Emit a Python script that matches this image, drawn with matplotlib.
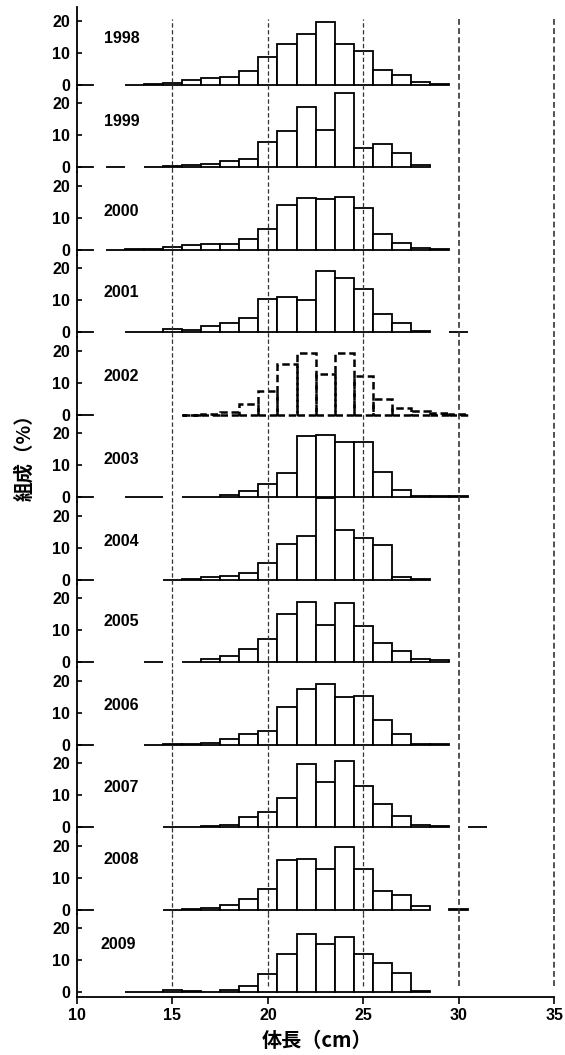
import matplotlib
matplotlib.use("Agg")
import matplotlib.pyplot as plt

plt.rcParams["font.family"] = ["Liberation Sans", "Noto Sans CJK JP", "DejaVu Sans"]
plt.rcParams["font.weight"] = "bold"

# length classes (cm), centre of each 1 cm bin
length_bins = [12, 13, 14, 15, 16, 17, 18, 19, 20, 21,
               22, 23, 24, 25, 26, 27, 28, 29, 30, 31]

# composition (%) by year; None = no fish in that class
y1998 = [None, 0.05, 0.2, 0.6, 1.6, 2.2, 2.6, 4.4, 8.6, 12.8,
         16.0, 19.5, 12.6, 10.7, 4.7, 3.2, 0.9, 0.3, None, None]
y1999 = [0.1, None, 0.1, 0.4, 0.7, 1.0, 2.0, 2.6, 7.9, 11.3,
         18.8, 11.6, 23.3, 6.0, 7.3, 4.5, 0.9, None, None, None]
y2000 = [0.05, 0.3, 0.2, 1.0, 1.4, 1.8, 1.8, 3.5, 6.6, 13.9,
         16.1, 15.8, 16.4, 13.1, 5.0, 2.3, 0.7, 0.4, None, None]
y2001 = [None, 0.1, 0.1, 1.1, 0.7, 2.0, 3.0, 4.6, 10.4, 11.1,
         10.2, 19.0, 16.9, 13.6, 5.7, 3.0, 0.4, None, 0.2, None]
y2002 = [None, None, None, None, 0.1, 0.3, 0.9, 3.3, 7.6, 16.0,
         19.4, 12.8, 19.4, 12.2, 4.9, 2.2, 1.1, 0.7, 0.4, None]
y2003 = [None, 0.0, 0.0, None, 0.05, 0.1, 0.7, 2.1, 4.2, 7.5,
         19.1, 19.3, 17.3, 17.3, 7.9, 2.4, 0.4, 0.5, 0.5, None]
y2004 = [None, None, None, 0.1, 0.2, 0.9, 1.1, 2.2, 5.3, 11.1,
         13.7, 25.6, 15.5, 13.2, 11.0, 0.8, 0.4, None, None, None]
y2005 = [None, None, 0.2, None, 0.3, 1.0, 2.0, 4.3, 7.3, 15.1,
         18.7, 11.8, 18.4, 11.3, 6.1, 3.7, 1.2, 0.7, None, None]
y2006 = [None, None, 0.05, 0.2, 0.2, 0.5, 2.0, 3.3, 4.2, 11.8,
         17.5, 18.9, 15.0, 15.3, 7.7, 3.3, 0.2, 0.4, None, None]
y2007 = [None, None, None, 0.3, 0.1, 0.4, 0.9, 3.2, 4.8, 9.3,
         19.9, 14.0, 20.7, 12.8, 7.2, 3.6, 0.8, 0.5, None, 0.2]
y2008 = [None, None, None, 0.1, 0.2, 0.6, 1.5, 3.4, 6.6, 15.6,
         15.9, 12.6, 19.5, 12.9, 6.0, 4.8, 1.3, None, 0.3, None]
y2009 = [None, 0.1, 0.2, 0.7, 0.5, 0.3, 0.8, 1.9, 5.9, 12.0,
         18.3, 15.2, 17.3, 11.9, 9.3, 6.0, 0.6, None, None, None]

years = ["1998", "1999", "2000", "2001", "2002", "2003",
         "2004", "2005", "2006", "2007", "2008", "2009"]
panels = [y1998, y1999, y2000, y2001, y2002, y2003,
          y2004, y2005, y2006, y2007, y2008, y2009]

y_ticks = [0, 10, 20]
x_ticks = [10, 15, 20, 25, 30, 35]
guide_x = [15, 20, 25, 30, 35]

# label placement (data units inside each panel)
label_x = [11.4] * 11 + [11.25]
label_y = [14.5, 14.3, 12.1, 12.3, 11.9, 11.9, 11.9, 12.8, 12.4, 12.3, 15.8, 14.8]

Y_LO, Y_HI = -1.4, 24.26

fig, axes = plt.subplots(len(years), 1, sharex=True, figsize=(5.65, 10.55), dpi=100)
fig.subplots_adjust(left=77 / 565, right=554.3 / 565,
                    top=1 - 7 / 1055, bottom=1 - 997 / 1055, hspace=0)

n = len(years)
for i, (ax, year, vals) in enumerate(zip(axes, years, panels)):
    ax.set_facecolor("none")
    ax.set_xlim(10, 35)
    ax.set_ylim(Y_LO, Y_HI)

    xs = [b for b, v in zip(length_bins, vals) if v is not None]
    hs = [v for v in vals if v is not None]
    if year == "2002":
        ax.bar(xs, hs, width=1.0, fill=False, edgecolor="black",
               linewidth=1.8, linestyle=(0, (3, 1.5)), clip_on=False, zorder=3)
    else:
        ax.bar(xs, hs, width=1.0, color="white", edgecolor="black",
               linewidth=1.3, clip_on=False, zorder=3)

    lo = (2 - Y_LO) / (Y_HI - Y_LO) if i == n - 1 else 0
    hi = (20.5 - Y_LO) / (Y_HI - Y_LO) if i == 0 else 1
    for gx in guide_x:
        lw = 1.2 if gx >= 30 else 0.9
        ax.axvline(gx, ymin=lo, ymax=hi, color="#333333", linewidth=lw,
                   linestyle=(0, (3.5, 2)), zorder=4, clip_on=False)

    ax.text(label_x[i], label_y[i], year, fontsize=11.5, fontweight="bold",
            va="center", ha="left")

    for side in ("top", "right"):
        ax.spines[side].set_visible(False)
    ax.spines["left"].set_linewidth(1.3)
    ax.set_yticks(y_ticks)
    ax.tick_params(axis="y", direction="in", length=3.8, width=1.2,
                   pad=5, labelsize=11.5)

    if i < n - 1:
        ax.spines["bottom"].set_visible(False)
        ax.tick_params(axis="x", bottom=False, labelbottom=False)
        ax.plot([10, 10.84], [0, 0], color="black", linewidth=1.3,
                clip_on=False, zorder=3)
    else:
        ax.spines["bottom"].set_linewidth(1.3)
        ax.set_xticks(x_ticks)
        ax.tick_params(axis="x", direction="out", length=5, width=1.2,
                       pad=3, labelsize=11.5)

fig.text(24 / 565, 1 - 453 / 1055, "組成（%）", rotation=90, fontsize=14,
         fontweight="bold", family=["Noto Sans CJK JP"], ha="center", va="center")
fig.text(317 / 565, 1 - 1040 / 1055, "体長（cm）", fontsize=14.5,
         fontweight="bold", family=["Noto Sans CJK JP"], ha="center", va="center")

fig.savefig("out.png", dpi=100)
